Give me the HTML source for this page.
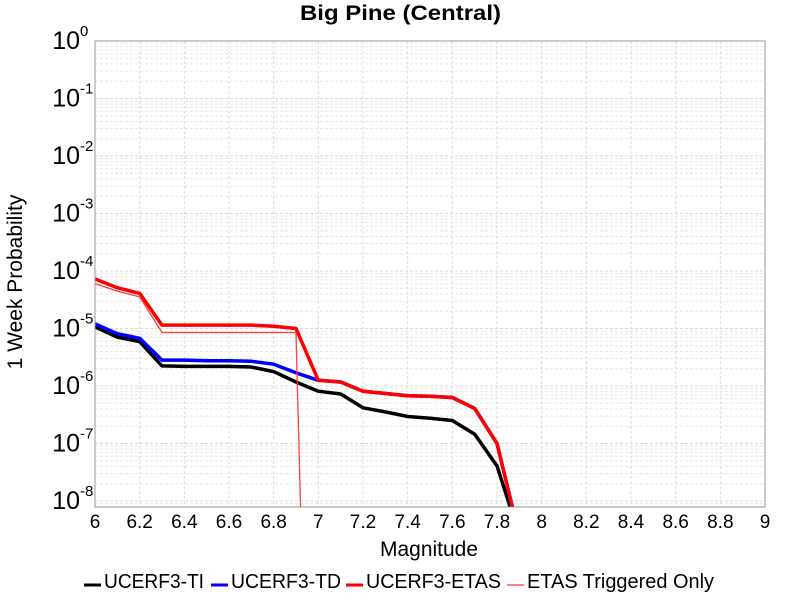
<!DOCTYPE html>
<html><head><meta charset="utf-8"><style>
html,body{margin:0;padding:0;background:#fff;width:800px;height:600px;overflow:hidden}
svg{display:block;font-family:"Liberation Sans",sans-serif}
</style></head><body>
<svg id="chart" width="800" height="600" viewBox="0 0 800 600" xmlns="http://www.w3.org/2000/svg">
<text x="300" y="20" font-size="21" font-weight="bold" textLength="201" lengthAdjust="spacingAndGlyphs">Big Pine (Central)</text>
<g id="grid"></g><g id="series"></g><g id="axes"></g>
<text x="380" y="556" font-size="21" textLength="98" lengthAdjust="spacingAndGlyphs">Magnitude</text>
<text transform="translate(22,282) rotate(-90)" text-anchor="middle" font-size="21">1 Week Probability</text>
<g id="legend"></g>
</svg>
<script>
const magnitudes=[6.0,6.1,6.2,6.3,6.4,6.5,6.6,6.7,6.8,6.9,7.0,7.1,7.2,7.3,7.4,7.5,7.6,7.7,7.8,7.9];
const tiLog=[-4.97,-5.15,-5.23,-5.65,-5.66,-5.66,-5.66,-5.67,-5.75,-5.93,-6.09,-6.14,-6.38,-6.45,-6.53,-6.56,-6.60,-6.84,-7.39,-8.6];
const tdLog=[-4.92,-5.09,-5.17,-5.55,-5.55,-5.56,-5.56,-5.57,-5.62,-5.77,-5.90,-5.93,-6.09,-6.13,-6.17,-6.18,-6.20,-6.39,-7.00,-8.6];
const etasLog=[-4.14,-4.29,-4.39,-4.94,-4.94,-4.94,-4.94,-4.94,-4.96,-5.00,-5.90,-5.93,-6.09,-6.13,-6.17,-6.18,-6.20,-6.39,-7.00,-8.6];
const trigLog=[-4.22,-4.35,-4.45,-5.07,-5.07,-5.07,-5.07,-5.07,-5.07,-5.07,-20,-20,-20,-20,-20,-20,-20,-20,-20,-20];
const xTicks=[6,6.2,6.4,6.6,6.8,7,7.2,7.4,7.6,7.8,8,8.2,8.4,8.6,8.8,9];
const yDecades=[0,-1,-2,-3,-4,-5,-6,-7,-8];
const seriesNames=["UCERF3-TI","UCERF3-TD","UCERF3-ETAS","ETAS Triggered Only"];

const L=95,R=765,T=41,B=507,NS="http://www.w3.org/2000/svg";
const X=m=>L+(m-6)/3*(R-L);
const Y=lg=>T+(-lg)*57.5;
function mk(tag,attrs,parent){const e=document.createElementNS(NS,tag);for(const k in attrs)e.setAttribute(k,attrs[k]);parent.appendChild(e);return e;}
const grid=document.getElementById('grid'),axes=document.getElementById('axes'),ser=document.getElementById('series'),leg=document.getElementById('legend');
for(let d=0;d>=-9;d--){
  for(let k=1;k<=9;k++){
    const v=(k===1)?d:(d-1+Math.log10(k));
    const y=Y(v); if(y<T-0.5||y>B) continue;
    const ln=mk('line',{x1:L,x2:R,y1:y,y2:y,stroke:k===1?'#d8d8d8':'#e6e6e6','stroke-width':1,'stroke-dasharray':'3,2'},grid);
    
    
  }
}
xTicks.forEach(t=>{
  const x=X(t);
  const ln=mk('line',{x1:x,x2:x,y1:T,y2:B,stroke:'#dcdcdc','stroke-width':1,'stroke-dasharray':'3,2'},grid);
  
  
  const tx=mk('text',{x:x,y:528,'text-anchor':'middle','font-size':19},axes);
  tx.textContent=String(t);
  
  
});
yDecades.forEach(d=>{
  const y=Y(d);
  const tx=mk('text',{x:80,y:y+8,'text-anchor':'end','font-size':25},axes);
  tx.textContent='10';
  
  
  const ex=mk('text',{x:80,y:y-5,'font-size':15},axes);
  ex.textContent=d===0?' 0':String(d);
  
  
});
const frame=mk('rect',{x:L,y:T,width:R-L,height:B-T,fill:'none',stroke:'#999','stroke-width':1},axes);


mk('clipPath',{id:'clip'},ser);
mk('rect',{x:L,y:T,width:R-L,height:B-T},document.getElementById('clip'));
const defs=[[tiLog,'#000',3.5,'series-ucerf3-ti'],[tdLog,'#0000ff',3.5,'series-ucerf3-td'],[etasLog,'#ff0000',3.5,'series-ucerf3-etas'],[trigLog,'#ff4040',1.3,'series-etas-triggered']];
defs.forEach(([vals,col,w,name])=>{
  const pts=magnitudes.map((m,i)=>X(m).toFixed(1)+','+Y(vals[i]).toFixed(1)).join(' ');
  const p=mk('polyline',{points:pts,fill:'none',stroke:col,'stroke-width':w,'stroke-linejoin':'round','clip-path':'url(#clip)'},ser);
  
  
});
const legX=[84,211,346,507],legTW=[100,110,135,187],legC=['#000','#0000ff','#ff0000','#ff8080'],legW=[3,3,3,2];
seriesNames.forEach((n,i)=>{
  const g=mk('g',{},leg);
  
  
  mk('line',{x1:legX[i],x2:legX[i]+17,y1:585,y2:585,stroke:legC[i],'stroke-width':legW[i]},g);
  const t=mk('text',{x:legX[i]+20,y:588,'font-size':20,textLength:legTW[i],lengthAdjust:'spacingAndGlyphs'},g);
  t.textContent=n;
});
</script>
</body></html>
